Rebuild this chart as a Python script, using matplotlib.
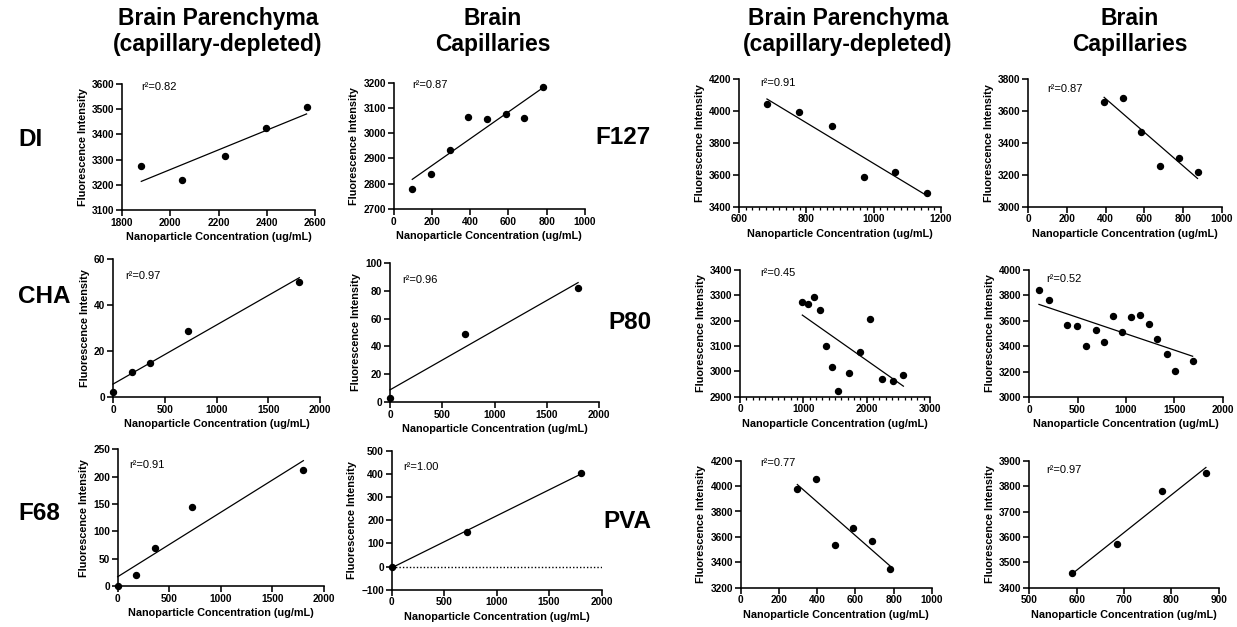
import matplotlib
matplotlib.use('Agg')
import matplotlib.pyplot as plt
import numpy as np
from matplotlib.ticker import MultipleLocator

plt.rcParams['font.family'] = ['Liberation Sans', 'DejaVu Sans']

W, H = 1237, 627
fig = plt.figure(figsize=(W / 100, H / 100), dpi=100)

# ---------------- data ----------------
di_par_x = [1880, 2050, 2225, 2395, 2565]
di_par_y = [3275, 3218, 3314, 3424, 3507]
di_cap_x = [98, 195, 293, 390, 488, 585, 683, 780]
di_cap_y = [2779, 2839, 2932, 3063, 3057, 3078, 3059, 3182]

cha_par_x = [0, 180, 360, 720, 1800]
cha_par_y = [2.2, 11.0, 15.1, 29.0, 50.0]
cha_cap_x = [0, 720, 1800]
cha_cap_y = [3.3, 49.0, 82.0]

f68_par_x = [0, 180, 360, 720, 1800]
f68_par_y = [0, 19.5, 69.5, 144.5, 212]
f68_cap_x = [0, 720, 1800]
f68_cap_y = [0, 147, 402]

f127_par_x = [683, 778, 875, 970, 1062, 1158]
f127_par_y = [4043, 3997, 3905, 3584, 3620, 3485]
f127_cap_x = [392, 490, 585, 683, 780, 875]
f127_cap_y = [3660, 3681, 3471, 3256, 3305, 3215]

p80_par_x = [984, 1079, 1174, 1268, 1358, 1453, 1542, 1721, 1895, 2060, 2240, 2420, 2580]
p80_par_y = [3275, 3266, 3292, 3242, 3100, 3017, 2921, 2995, 3078, 3207, 2968, 2962, 2985]
p80_cap_x = [100, 200, 390, 490, 587, 690, 776, 866, 959, 1053, 1146, 1235, 1324, 1420, 1510, 1690]
p80_cap_y = [3842, 3763, 3566, 3561, 3400, 3526, 3434, 3637, 3513, 3632, 3642, 3576, 3458, 3335, 3205, 3280]

pva_par_x = [296, 393, 492, 586, 685, 780]
pva_par_y = [3974, 4053, 3539, 3672, 3565, 3345]
pva_cap_x = [590, 686, 780, 873]
pva_cap_y = [3456, 3571, 3780, 3852]

r2_labels = ['0.82', '0.87', '0.97', '0.96', '0.91', '1.00',
             '0.91', '0.87', '0.45', '0.52', '0.77', '0.97']

col_titles = ['Brain Parenchyma\n(capillary-depleted)', 'Brain\nCapillaries',
              'Brain Parenchyma\n(capillary-depleted)', 'Brain\nCapillaries']
row_labels_left = ['DI', 'CHA', 'F68']
row_labels_right = ['F127', 'P80', 'PVA']

# ---------------- layout (pixel boxes: left, right, top, bottom) ----------------
panels = [
    # x, y, xlim, xstep, xminor, ylim, ystep, rect, r2pos
    (di_par_x, di_par_y, (1800, 2600), 200, None, (3100, 3600), 100, (122, 315, 84, 210), (141, 87)),
    (di_cap_x, di_cap_y, (0, 1000), 200, None, (2700, 3200), 100, (393.5, 585, 82.7, 209), (412, 85)),
    (cha_par_x, cha_par_y, (0, 2000), 500, None, (0, 60), 20, (113, 320, 259.3, 397.3), (125, 276)),
    (cha_cap_x, cha_cap_y, (0, 2000), 500, None, (0, 100), 20, (390, 599, 262.7, 402.3), (402, 280)),
    (f68_par_x, f68_par_y, (0, 2000), 500, None, (0, 250), 50, (117.7, 324, 449.3, 586), (129, 465)),
    (f68_cap_x, f68_cap_y, (0, 2000), 500, None, (-100, 500), 100, (391.7, 601.5, 450.7, 589.7), (403, 467)),
    (f127_par_x, f127_par_y, (600, 1200), 200, 20, (3400, 4200), 200, (739, 941, 79.3, 206.7), (760, 83)),
    (f127_cap_x, f127_cap_y, (0, 1000), 200, None, (3000, 3800), 200, (1028.3, 1221.7, 79.3, 206.7), (1047, 89)),
    (p80_par_x, p80_par_y, (0, 3000), 1000, 100, (2900, 3400), 100, (740, 930, 270, 396.7), (760, 273)),
    (p80_cap_x, p80_cap_y, (0, 2000), 500, None, (3000, 4000), 200, (1029.3, 1222.6, 270, 397), (1046, 279)),
    (pva_par_x, pva_par_y, (0, 1000), 200, None, (3200, 4200), 200, (740.7, 932, 460.7, 587.7), (760, 463)),
    (pva_cap_x, pva_cap_y, (500, 900), 100, None, (3400, 3900), 100, (1029.3, 1218.7, 460.7, 587.7), (1046, 470)),
]

for i, (x, y, xlim, xstep, xminor, ylim, ystep, rect, r2pos) in enumerate(panels):
    l, r, t, b = rect
    ax = fig.add_axes([l / W, 1 - b / H, (r - l) / W, (b - t) / H])
    for s in ['top', 'right']:
        ax.spines[s].set_visible(False)
    for s in ['left', 'bottom']:
        ax.spines[s].set_linewidth(1.15)
    ax.set_xlim(*xlim)
    ax.set_ylim(*ylim)
    ax.set_xticks(np.arange(xlim[0], xlim[1] + 0.1, xstep))
    ax.set_yticks(np.arange(ylim[0], ylim[1] + 0.1, ystep))
    if xminor:
        ax.xaxis.set_minor_locator(MultipleLocator(xminor))
        ax.tick_params(axis='x', which='minor', length=2.5, width=0.9)
    ax.tick_params(axis='both', which='major', length=4, width=1.15, labelsize=7.3, pad=1.5)
    for lab in ax.get_xticklabels() + ax.get_yticklabels():
        lab.set_fontweight('bold')
    ax.set_xlabel('Nanoparticle Concentration (ug/mL)', fontsize=7.8, fontweight='bold', labelpad=3)
    ax.set_ylabel('Fluorescence Intensity', fontsize=7.8, fontweight='bold', labelpad=3)

    xa = np.array(x, dtype=float)
    ya = np.array(y, dtype=float)
    m, c = np.polyfit(xa, ya, 1)
    xx = np.array([xa.min(), xa.max()])
    ax.plot(xx, m * xx + c, color='black', lw=0.9, clip_on=False, zorder=2)
    ax.plot(xa, ya, 'o', color='black', markersize=4.3, clip_on=False, zorder=3)
    if ylim[0] < 0:
        ax.axhline(0, color='black', lw=1.0, ls=(0, (1, 1.5)), zorder=1)

    fig.text(r2pos[0] / W, 1 - r2pos[1] / H, 'r\u00b2=' + r2_labels[i],
             fontsize=8, ha='left', va='center')

# column titles
title_x = [218, 493, 848, 1130]
for tx, tt in zip(title_x, col_titles):
    fig.text(tx / W, 1 - 7 / H, tt, fontsize=16.5, fontweight='bold',
             ha='center', va='top', linespacing=1.15)

# row labels
for lab, yc in zip(row_labels_left, [140, 297, 513]):
    fig.text(18 / W, 1 - yc / H, lab, fontsize=17.5, fontweight='bold', ha='left', va='center')
for lab, yc in zip(row_labels_right, [137, 322, 522]):
    fig.text(651 / W, 1 - yc / H, lab, fontsize=17.5, fontweight='bold', ha='right', va='center')

fig.savefig('out.png', dpi=100)
